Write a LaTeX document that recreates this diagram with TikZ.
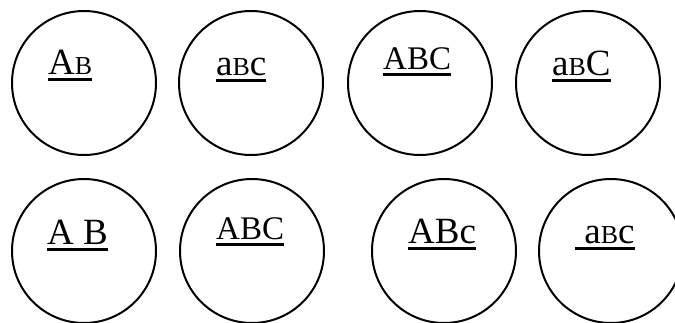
\documentclass[tikz,border=0pt]{standalone}
\usepackage{fontspec}
\usepackage{graphicx}
\setmainfont{Liberation Serif}
\usetikzlibrary{positioning}
% fake small capitals and a heavy underline
\newcommand\smcap[1]{\scalebox{0.7}{#1}}
\newcommand\ulined[1]{\sbox0{#1}\rlap{\rule[-6.6pt]{\wd0}{3pt}}\usebox0}

\begin{document}
\begin{tikzpicture}[x=1pt, y=-1pt,
    ring/.style={circle, draw=black, line width=2pt, minimum size=144pt, inner sep=0pt},
    lbl/.style={anchor=base west, inner sep=0pt, font=\fontsize{37}{40}\selectfont},
    lblsm/.style={lbl, font=\fontsize{33}{36}\selectfont}
]
\useasboundingbox (0,0) rectangle (675,322);
\clip (0,0) rectangle (675,322);
% top row
\node[ring] (c1) at (84,83) {};
\node[ring] (c2) at (251,83) {};
\node[ring] (c3) at (420,83) {};
\node[ring] (c4) at (588,83) {};
\node[lbl] (t1) at (48,74.5) {\ulined{A\smcap{B}}};
\node[lbl] (t2) at (216,75.5) {\ulined{a\smcap{B}c}};
\node[lblsm] (t3) at (383,69.3) {\ulined{ABC}};
\node[lbl] (t4) at (552,75) {\ulined{a\smcap{B}C}};
% bottom row
\node[ring] (c5) at (84,251) {};
\node[ring] (c6) at (252,251) {};
\node[ring] (c7) at (444,251) {};
\node[ring] (c8) at (611,251) {};
\node[lbl] (t5) at (47,244) {\ulined{A B}};
\node[lblsm] (t6) at (216,239.3) {\ulined{ABC}};
\node[lbl] (t7) at (408,243) {\ulined{ABc}};
\node[lbl] (t8) at (575,243) {\ulined{\ a\smcap{B}c}};
\end{tikzpicture}
\end{document}
